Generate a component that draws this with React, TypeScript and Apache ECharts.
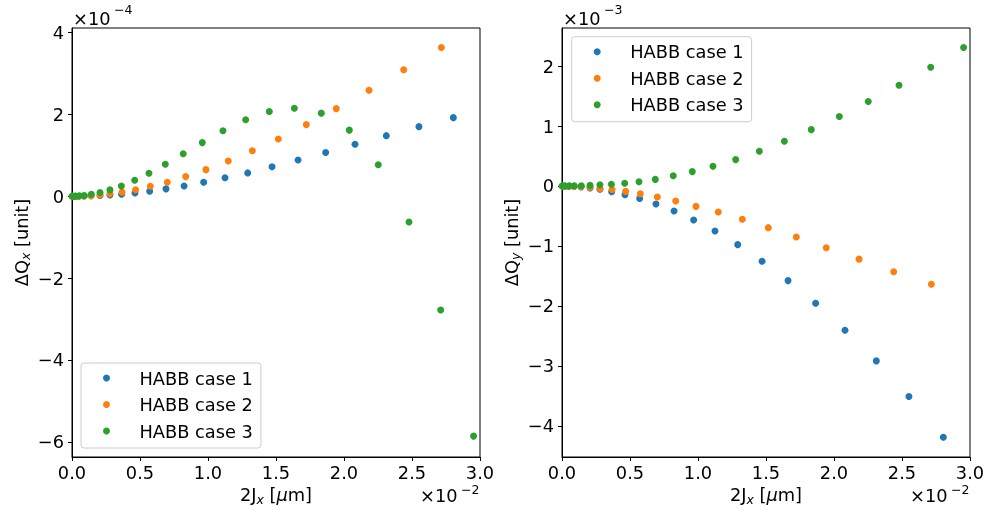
import React, { useEffect, useRef } from 'react';
import * as echarts from 'echarts';

const FONT = 'DejaVu Sans';
const FS = 17.8;
const COLORS = ['#1f77b4', '#ff7f0e', '#2ca02c'];
const NAMES = ['HABB case 1', 'HABB case 2', 'HABB case 3'];

// x values (×1e-2 µm)
const x1 = [0.005, 0.021, 0.049, 0.089, 0.14, 0.206, 0.279, 0.365, 0.463, 0.571, 0.691, 0.824, 0.968, 1.125, 1.292, 1.471, 1.662, 1.865, 2.081, 2.311, 2.551, 2.804];
const x2 = [0.003, 0.018, 0.046, 0.087, 0.14, 0.206, 0.279, 0.368, 0.468, 0.576, 0.701, 0.836, 0.985, 1.149, 1.326, 1.517, 1.723, 1.943, 2.184, 2.439, 2.716];
const x3 = [0.0001, 0.007, 0.025, 0.054, 0.09, 0.142, 0.206, 0.279, 0.363, 0.461, 0.566, 0.686, 0.818, 0.958, 1.11, 1.277, 1.451, 1.635, 1.833, 2.039, 2.252, 2.478, 2.711, 2.953];

// ΔQx (×1e-4)
const qx1 = [0, 0, 0.002, 0.005, 0.01, 0.02, 0.03, 0.05, 0.08, 0.12, 0.18, 0.25, 0.34, 0.45, 0.57, 0.72, 0.885, 1.07, 1.27, 1.48, 1.7, 1.92];
const qx2 = [0, 0, 0.002, 0.005, 0.01, 0.03, 0.06, 0.1, 0.16, 0.243, 0.34, 0.48, 0.65, 0.86, 1.11, 1.4, 1.75, 2.14, 2.59, 3.09, 3.635];
const qx3 = [0, 0, 0.003, 0.01, 0.02, 0.05, 0.09, 0.155, 0.25, 0.39, 0.56, 0.78, 1.04, 1.31, 1.6, 1.87, 2.07, 2.15, 2.03, 1.615, 0.77, -0.63, -2.78, -5.86];

// ΔQy (×1e-3)
const qy1 = [0, -0.001, -0.003, -0.007, -0.015, -0.033, -0.055, -0.095, -0.145, -0.21, -0.3, -0.417, -0.567, -0.75, -0.978, -1.255, -1.578, -1.955, -2.405, -2.917, -3.51, -4.19];
const qy2 = [0, -0.001, -0.003, -0.006, -0.01, -0.02, -0.04, -0.06, -0.09, -0.128, -0.183, -0.25, -0.34, -0.433, -0.555, -0.695, -0.85, -1.03, -1.22, -1.43, -1.64];
const qy3 = [0, 0, 0.001, 0.002, 0.004, 0.005, 0.01, 0.02, 0.03, 0.045, 0.07, 0.11, 0.17, 0.24, 0.33, 0.44, 0.58, 0.745, 0.94, 1.16, 1.41, 1.68, 1.98, 2.31];

const xTicks = [0, 0.5, 1.0, 1.5, 2.0, 2.5, 3.0];
const yTicksL = [-6, -4, -2, 0, 2, 4];
const yTicksR = [-4, -3, -2, -1, 0, 1, 2];

const zip = (xs: number[], ys: number[]) => xs.map((x, i) => [x, ys[i]]);
const fmtInt = (v: number) => (v < 0 ? '\u2212' + Math.abs(v) : String(v));

export default function App() {
  const ref = useRef<HTMLDivElement>(null);
  useEffect(() => {
    if (!ref.current) return;
    const chart = echarts.init(ref.current, undefined, { renderer: 'svg' });
    const richName = {
      a: { fontFamily: FONT, fontSize: FS, color: '#000', lineHeight: 22 },
      s: { fontFamily: FONT, fontSize: 12.5, fontStyle: 'italic', color: '#000', lineHeight: 22, verticalAlign: 'bottom' },
    };
    const xAxisBase = (gi: number) => ({
      type: 'value', gridIndex: gi, min: 0, max: 3.0,
      name: '{a|2J}{s|x}{a| [}{i|μ}{a|m]}', nameLocation: 'middle', nameGap: 26,
      nameTextStyle: { rich: { ...richName, i: { fontFamily: FONT, fontSize: FS, fontStyle: 'italic', color: '#000', lineHeight: 22 } } },
      axisLine: { show: true, onZero: false, lineStyle: { color: '#000', width: 1 } },
      axisTick: { show: true, length: 4, customValues: xTicks, lineStyle: { color: '#000', width: 1 } },
      axisLabel: { customValues: xTicks, formatter: (v: number) => v.toFixed(1), fontFamily: FONT, fontSize: FS, color: '#000', margin: 6 },
      splitLine: { show: false },
    });
    const yAxisBase = (gi: number, min: number, max: number, ticks: number[], sub: string) => ({
      type: 'value', gridIndex: gi, min, max,
      name: '{a|ΔQ}{s|' + sub + '}{a| [unit]}', nameLocation: 'middle', nameGap: 40,
      nameTextStyle: { rich: richName },
      axisLine: { show: true, onZero: false, lineStyle: { color: '#000', width: 1 } },
      axisTick: { show: true, length: 4, customValues: ticks, lineStyle: { color: '#000', width: 1 } },
      axisLabel: { customValues: ticks, formatter: fmtInt, fontFamily: FONT, fontSize: FS, color: '#000', margin: 8 },
      splitLine: { show: false },
    });
    const legendBase = (left: number, top: number) => ({
      orient: 'vertical', left, top,
      data: NAMES.map((n) => ({ name: n, icon: 'circle' })),
      itemWidth: 18, itemHeight: 7, itemGap: 6.5,
      padding: [5, 8, 7, 22],
      backgroundColor: 'rgba(255,255,255,0.8)',
      borderColor: '#cccccc', borderWidth: 1, borderRadius: 3,
      textStyle: { fontFamily: FONT, fontSize: FS, color: '#000', lineHeight: 20, padding: [0, 0, 0, 19] },
      selectedMode: false,
    });
    const offText = (x: number, y: number, exp: string, align: 'left' | 'right') => {
      const baseW = 40;
      const expW = 20;
      const left = align === 'left' ? x : x - baseW - expW;
      return [
        { type: 'text', left, top: y - 10, style: { text: '×10', fontFamily: FONT, fontSize: FS, fill: '#000' } },
        { type: 'text', left: left + baseW + 1, top: y - (align === 'right' ? 13 : 16), style: { text: exp, fontFamily: FONT, fontSize: 12.5, fill: '#000' } },
      ];
    };
    const scat = (name: string, data: number[][], gi: number, color: string) => ({
      type: 'scatter', name, data, xAxisIndex: gi, yAxisIndex: gi,
      symbol: 'circle', symbolSize: 7, itemStyle: { color, opacity: 1 },
      emphasis: { disabled: true },
    });
    chart.setOption({
      animation: false,
      grid: [
        { left: 72, top: 28, width: 408, height: 429, show: true, borderColor: '#000', borderWidth: 1, backgroundColor: 'transparent' },
        { left: 562, top: 28, width: 408, height: 429, show: true, borderColor: '#000', borderWidth: 1, backgroundColor: 'transparent' },
      ],
      xAxis: [xAxisBase(0), xAxisBase(1)],
      yAxis: [yAxisBase(0, -6.37, 4.11, yTicksL, 'x'), yAxisBase(1, -4.52, 2.635, yTicksR, 'y')],
      legend: [legendBase(81, 363), legendBase(571.7, 36.7)],
      series: [
        scat(NAMES[0], zip(x1, qx1), 0, COLORS[0]),
        scat(NAMES[1], zip(x2, qx2), 0, COLORS[1]),
        scat(NAMES[2], zip(x3, qx3), 0, COLORS[2]),
        scat(NAMES[0], zip(x1, qy1), 1, COLORS[0]),
        scat(NAMES[1], zip(x2, qy2), 1, COLORS[1]),
        scat(NAMES[2], zip(x3, qy3), 1, COLORS[2]),
      ],
      graphic: [
        ...offText(73, 19, '\u22124', 'left'),
        ...offText(563, 19, '\u22123', 'left'),
        ...offText(480, 496, '\u22122', 'right'),
        ...offText(970, 496, '\u22122', 'right'),
      ],
    });
    return () => chart.dispose();
  }, []);
  return <div ref={ref} style={{ position: 'fixed', left: 0, top: 0, width: 990, height: 512 }} />;
}
